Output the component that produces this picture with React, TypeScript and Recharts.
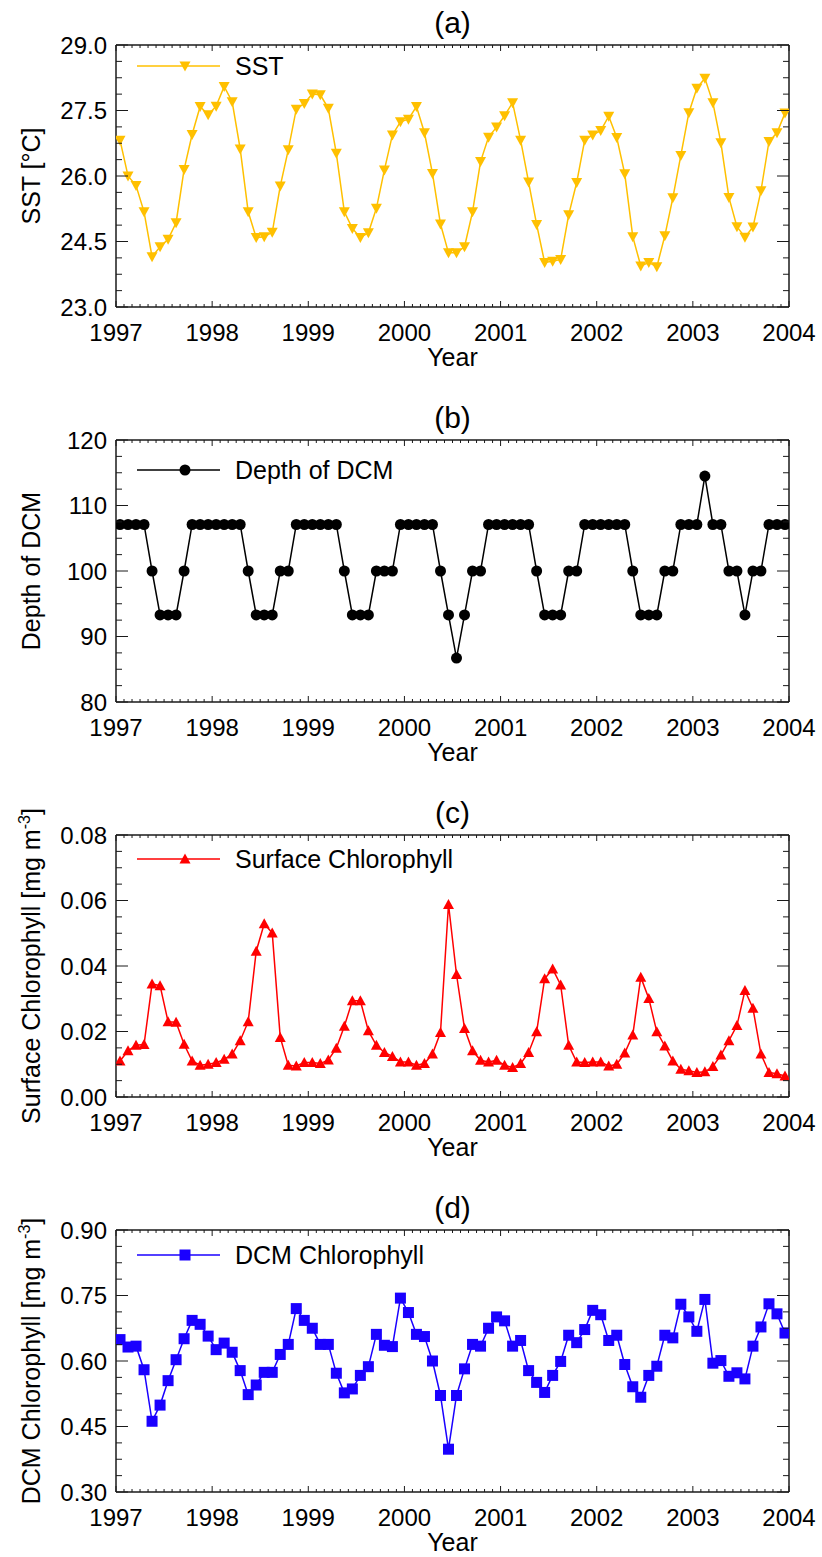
import React from 'react';
import { LineChart, Line, XAxis, YAxis } from 'recharts';

// monthly means, Jan 1997 .. Dec 2003 (one row per year)
const sst = [
  26.82, 26.0, 25.78, 25.18, 24.15, 24.38, 24.55, 24.93, 26.15, 26.95, 27.59, 27.4,
  27.6, 28.05, 27.7, 26.62, 25.18, 24.59, 24.61, 24.71, 25.77, 26.6, 27.53, 27.66,
  27.88, 27.86, 27.55, 26.52, 25.18, 24.8, 24.59, 24.7, 25.26, 26.14, 26.94, 27.24,
  27.3, 27.59, 26.99, 26.06, 24.9, 24.24, 24.24, 24.38, 25.18, 26.33, 26.89, 27.12,
  27.38, 27.68, 26.82, 25.86, 24.89, 24.02, 24.05, 24.09, 25.11, 25.85, 26.82, 26.94,
  27.04, 27.37, 26.88, 26.05, 24.61, 23.94, 24.02, 23.92, 24.63, 25.5, 26.47, 27.45,
  28.01, 28.24, 27.68, 26.76, 25.51, 24.84, 24.6, 24.83, 25.66, 26.79, 26.99, 27.44,
];

const dcmDepth = [
  107.1, 107.1, 107.1, 107.1, 100, 93.3, 93.3, 93.3, 100, 107.1, 107.1, 107.1,
  107.1, 107.1, 107.1, 107.1, 100, 93.3, 93.3, 93.3, 100, 100, 107.1, 107.1,
  107.1, 107.1, 107.1, 107.1, 100, 93.3, 93.3, 93.3, 100, 100, 100, 107.1,
  107.1, 107.1, 107.1, 107.1, 100, 93.3, 86.7, 93.3, 100, 100, 107.1, 107.1,
  107.1, 107.1, 107.1, 107.1, 100, 93.3, 93.3, 93.3, 100, 100, 107.1, 107.1,
  107.1, 107.1, 107.1, 107.1, 100, 93.3, 93.3, 93.3, 100, 100, 107.1, 107.1,
  107.1, 114.5, 107.1, 107.1, 100, 100, 93.3, 100, 100, 107.1, 107.1, 107.1,
];

const surfaceChl = [
  0.011, 0.0141, 0.0158, 0.016, 0.0345, 0.034, 0.023, 0.0228, 0.0161, 0.011, 0.0097, 0.01,
  0.0105, 0.0115, 0.0131, 0.0172, 0.023, 0.0445, 0.0529, 0.0501, 0.0182, 0.0097, 0.0095, 0.0105,
  0.0105, 0.0102, 0.0113, 0.0149, 0.0216, 0.0294, 0.0294, 0.0202, 0.0158, 0.0136, 0.0124, 0.0107,
  0.0107, 0.0097, 0.0102, 0.0131, 0.0197, 0.0588, 0.0374, 0.0209, 0.0141, 0.0112, 0.0107, 0.0112,
  0.0097, 0.009, 0.0102, 0.0136, 0.0199, 0.0361, 0.0391, 0.0342, 0.0158, 0.0107, 0.0105, 0.0107,
  0.0107, 0.0095, 0.01, 0.0134, 0.0189, 0.0366, 0.0301, 0.0199, 0.0156, 0.011, 0.0085, 0.008,
  0.0075, 0.0077, 0.0093, 0.0128, 0.0172, 0.0218, 0.0325, 0.0271, 0.0131, 0.0075, 0.0071, 0.0064,
];

const dcmChl = [
  0.649, 0.632, 0.634, 0.58, 0.462, 0.499, 0.555, 0.603, 0.651, 0.693, 0.684, 0.657,
  0.626, 0.641, 0.62, 0.578, 0.523, 0.545, 0.574, 0.574, 0.615, 0.638, 0.72, 0.693,
  0.675, 0.638, 0.638, 0.572, 0.527, 0.536, 0.567, 0.587, 0.661, 0.636, 0.633, 0.744,
  0.711, 0.661, 0.656, 0.6, 0.521, 0.398, 0.521, 0.582, 0.638, 0.634, 0.675, 0.701,
  0.692, 0.634, 0.647, 0.578, 0.551, 0.528, 0.567, 0.599, 0.659, 0.642, 0.672, 0.716,
  0.706, 0.647, 0.659, 0.592, 0.541, 0.517, 0.567, 0.588, 0.659, 0.653, 0.73, 0.701,
  0.668, 0.741, 0.595, 0.601, 0.565, 0.573, 0.559, 0.634, 0.678, 0.731, 0.708, 0.664,
];

const startYear = 1997;
const endYear = 2004;
const sstTicks = [23.0, 24.5, 26.0, 27.5, 29.0];
const depthTicks = [80, 90, 100, 110, 120];
const surfaceTicks = [0, 0.02, 0.04, 0.06, 0.08];
const dcmChlTicks = [0.3, 0.45, 0.6, 0.75, 0.9];

const FONT = '"Liberation Sans", Arial, Helvetica, sans-serif';
const AXIS = '#1a1a1a';
const W = 822;
const H = 395;
const TOP = 45;
const PLOT_H = 262;
const LEFT = 116;
const RIGHT = 789;
const MID_X = (LEFT + RIGHT) / 2;

// x positions sit at mid-month
const time = sst.map((_, i) => startYear + (i + 0.5) / 12);
const monthTicks = Array.from({ length: (endYear - startYear) * 12 + 1 }, (_, i) => startYear + i / 12);
const isYear = (v: number) => Math.abs(v - Math.round(v)) < 1e-6;

type MarkerKind = 'down' | 'up' | 'circle' | 'square';

function marker(kind: MarkerKind, cx: number, cy: number, color: string, key?: string | number) {
  if (kind === 'circle') return <circle key={key} cx={cx} cy={cy} r={5.5} fill={color} />;
  if (kind === 'square') return <rect key={key} x={cx - 5.5} y={cy - 5.5} width={11} height={11} fill={color} />;
  if (kind === 'down')
    return <polygon key={key} points={`${cx - 5.5},${cy - 4.5} ${cx + 5.5},${cy - 4.5} ${cx},${cy + 5.5}`} fill={color} />;
  return <polygon key={key} points={`${cx - 5.5},${cy + 4.5} ${cx + 5.5},${cy + 4.5} ${cx},${cy - 5.5}`} fill={color} />;
}

type PanelProps = {
  tag: string;
  values: number[];
  majors: number[];
  minorsPerMajor: number;
  digits: number;
  color: string;
  kind: MarkerKind;
  legend: string;
  legendY: number;
  yTitle: React.ReactNode;
};

function Panel({ tag, values, majors, minorsPerMajor, digits, color, kind, legend, legendY, yTitle }: PanelProps) {
  const data = values.map((v, i) => ({ t: time[i], v }));
  const lo = majors[0];
  const hi = majors[majors.length - 1];
  const step = (majors[1] - majors[0]) / minorsPerMajor;
  const yTicks = Array.from({ length: Math.round((hi - lo) / step) + 1 }, (_, k) => lo + k * step);
  const isMajorY = (v: number) => majors.some((m) => Math.abs(m - v) < step / 10);

  const bottomTick = (p: any) => {
    const major = isYear(p.payload.value);
    return (
      <g>
        <line x1={p.x} x2={p.x} y1={p.y} y2={p.y - (major ? 6 : 3)} stroke={AXIS} strokeWidth={1} />
        {major && (
          <text x={p.x} y={p.y + 34} textAnchor="middle" fontSize={24} fontFamily={FONT} fill="#000">
            {Math.round(p.payload.value)}
          </text>
        )}
      </g>
    );
  };
  const topTick = (p: any) => {
    const major = isYear(p.payload.value);
    return <line x1={p.x} x2={p.x} y1={p.y} y2={p.y + (major ? 6 : 3)} stroke={AXIS} strokeWidth={1} />;
  };
  const leftTick = (p: any) => {
    const major = isMajorY(p.payload.value);
    return (
      <g>
        <line x1={p.x} x2={p.x + (major ? 12 : 6)} y1={p.y} y2={p.y} stroke={AXIS} strokeWidth={1} />
        {major && (
          <text x={p.x - 9} y={p.y + 8.5} textAnchor="end" fontSize={24} fontFamily={FONT} fill="#000">
            {p.payload.value.toFixed(digits)}
          </text>
        )}
      </g>
    );
  };
  const rightTick = (p: any) => {
    const major = isMajorY(p.payload.value);
    return <line x1={p.x} x2={p.x - (major ? 12 : 6)} y1={p.y} y2={p.y} stroke={AXIS} strokeWidth={1} />;
  };

  const header = () => (
    <g fontFamily={FONT}>
      <text x={MID_X} y={33} textAnchor="middle" fontSize={30} fill="#000">
        {tag}
      </text>
      <line x1={137} x2={220} y1={legendY} y2={legendY} stroke={color} strokeWidth={1.5} />
      {marker(kind, 185, legendY, color)}
      <text x={235} y={legendY + 9} fontSize={25} fill="#000">
        {legend}
      </text>
    </g>
  );
  const yearLabel = () => (
    <text x={MID_X} y={TOP + PLOT_H + 59} textAnchor="middle" fontSize={25} fontFamily={FONT} fill="#000">
      Year
    </text>
  );
  const yLabel = () => (
    <text
      transform={`translate(40, ${TOP + PLOT_H / 2}) rotate(-90)`}
      textAnchor="middle"
      fontSize={25}
      fontFamily={FONT}
      fill="#000"
    >
      {yTitle}
    </text>
  );

  // top/right frame axes are 1px thick: recharts skips axes of zero size
  return (
    <LineChart width={W} height={H} data={data} margin={{ top: TOP - 1, right: W - RIGHT - 1, left: 0, bottom: 0 }}>
      <XAxis
        xAxisId="top"
        orientation="top"
        dataKey="t"
        type="number"
        domain={[startYear, endYear]}
        ticks={monthTicks}
        interval={0}
        height={1}
        tickSize={0}
        tickMargin={0}
        tick={topTick}
        axisLine={{ stroke: AXIS, strokeWidth: 1.5 }}
        allowDataOverflow
        label={header}
      />
      <XAxis
        dataKey="t"
        type="number"
        domain={[startYear, endYear]}
        ticks={monthTicks}
        interval={0}
        height={H - TOP - PLOT_H}
        tickSize={0}
        tickMargin={0}
        tick={bottomTick}
        axisLine={{ stroke: AXIS, strokeWidth: 1.5 }}
        allowDataOverflow
        label={yearLabel}
      />
      <YAxis
        type="number"
        domain={[lo, hi]}
        ticks={yTicks}
        interval={0}
        width={LEFT}
        tickSize={0}
        tickMargin={0}
        tick={leftTick}
        axisLine={{ stroke: AXIS, strokeWidth: 1.5 }}
        allowDataOverflow
        label={yLabel}
      />
      <YAxis
        yAxisId="right"
        orientation="right"
        type="number"
        domain={[lo, hi]}
        ticks={yTicks}
        interval={0}
        width={1}
        tickSize={0}
        tickMargin={0}
        tick={rightTick}
        axisLine={{ stroke: AXIS, strokeWidth: 1.5 }}
        allowDataOverflow
      />
      {/* invisible twin so the top and right frame axes have a series */}
      <Line
        xAxisId="top"
        yAxisId="right"
        dataKey="v"
        stroke="none"
        dot={false}
        activeDot={false}
        isAnimationActive={false}
      />
      <Line
        dataKey="v"
        stroke={color}
        strokeWidth={1.5}
        isAnimationActive={false}
        activeDot={false}
        dot={(p: any) => marker(kind, p.cx, p.cy, color, `m${p.index}`)}
      />
    </LineChart>
  );
}

const sup = (s: string) => (
  <>
    <tspan dy={-10} fontSize={16}>
      {s}
    </tspan>
    <tspan dy={10}>]</tspan>
  </>
);

export default function App() {
  return (
    <div style={{ position: 'absolute', left: 0, top: 0, width: W, height: 1557, background: '#fff', overflow: 'hidden' }}>
      <Panel
        tag="(a)"
        values={sst}
        majors={sstTicks}
        minorsPerMajor={4}
        digits={1}
        color="#ffc000"
        kind="down"
        legend="SST"
        legendY={66}
        yTitle="SST [°C]"
      />
      <Panel
        tag="(b)"
        values={dcmDepth}
        majors={depthTicks}
        minorsPerMajor={4}
        digits={0}
        color="#000000"
        kind="circle"
        legend="Depth of DCM"
        legendY={75}
        yTitle="Depth of DCM"
      />
      <Panel
        tag="(c)"
        values={surfaceChl}
        majors={surfaceTicks}
        minorsPerMajor={4}
        digits={2}
        color="#ff0000"
        kind="up"
        legend="Surface Chlorophyll"
        legendY={69}
        yTitle={<>Surface Chlorophyll [mg m{sup('-3')}</>}
      />
      <Panel
        tag="(d)"
        values={dcmChl}
        majors={dcmChlTicks}
        minorsPerMajor={4}
        digits={2}
        color="#1a00ff"
        kind="square"
        legend="DCM Chlorophyll"
        legendY={70}
        yTitle={<>DCM Chlorophyll [mg m{sup('-3')}</>}
      />
    </div>
  );
}
